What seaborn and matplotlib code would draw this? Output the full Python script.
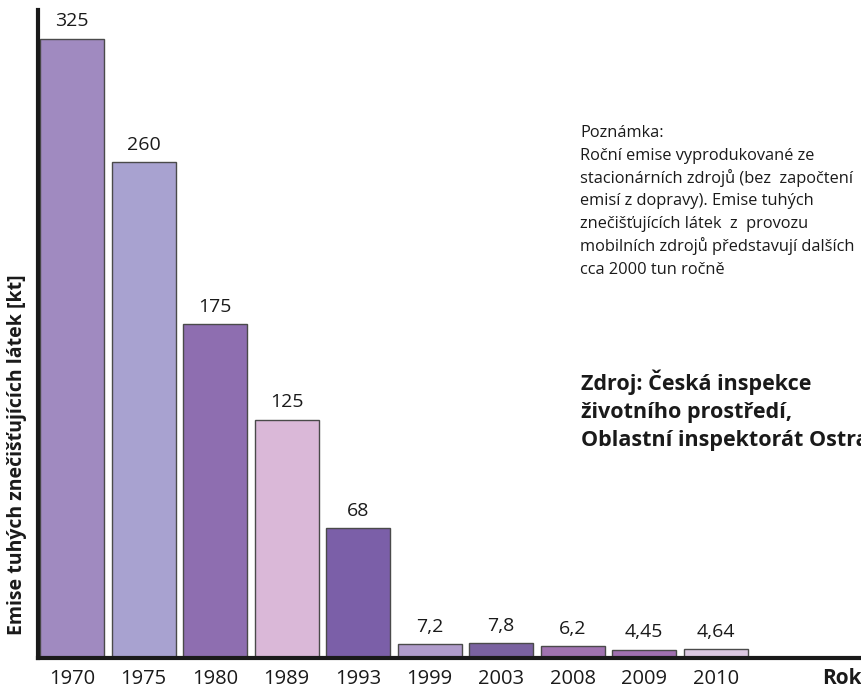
import matplotlib
matplotlib.use("Agg")
import matplotlib.pyplot as plt
import pandas as pd
import seaborn as sns

years = ["1970", "1975", "1980", "1989", "1993", "1999", "2003", "2008", "2009", "2010"]
emissions = [325, 260, 175, 125, 68, 7.2, 7.8, 6.2, 4.45, 4.64]
value_labels = ["325", "260", "175", "125", "68", "7,2", "7,8", "6,2", "4,45", "4,64"]
bar_colors = ["#a08ac0", "#a8a2d0", "#8e6eb0", "#dab8d8", "#7b5fa8",
              "#b09ccb", "#7a62a0", "#a073b0", "#a070b0", "#dcc8e2"]

note_lines = ["Poznámka:",
              "Roční emise vyprodukované ze",
              "stacionárních zdrojů (bez  započtení",
              "emisí z dopravy). Emise tuhých",
              "znečišťujících látek  z  provozu",
              "mobilních zdrojů představují dalších",
              "cca 2000 tun ročně"]
source_lines = ["Zdroj: Česká inspekce",
                "životního prostředí,",
                "Oblastní inspektorát Ostrava"]

sns.set_style("white")
plt.rcParams["font.family"] = ["Open Sans", "DejaVu Sans"]

df = pd.DataFrame({"year": years, "kt": emissions})

W, H = 861, 688
fig = plt.figure(figsize=(W / 100, H / 100), dpi=100)
ax = fig.add_axes([38 / W, (H - 658) / H, 1 - 38 / W, (658 - 10) / H])

sns.barplot(data=df, x="year", y="kt", hue="year", palette=bar_colors,
            legend=False, width=0.895, edgecolor="#4a4a4a", linewidth=1.0,
            saturation=1, ax=ax)

for i, (v, lab) in enumerate(zip(emissions, value_labels)):
    ax.annotate(lab, (i, v), xytext=(0, 6), textcoords="offset points",
                ha="center", va="bottom", fontsize=14, color="#1a1a1a")

ax.set_xlim(-0.476, 11.03)
ax.set_ylim(0, 340)
ax.set_yticks([])
ax.set_xlabel("")
ax.set_ylabel("")
ax.tick_params(axis="x", length=0, pad=8, labelsize=14.5, labelcolor="#1a1a1a")
sns.despine(ax=ax, top=True, right=True)
for side in ("left", "bottom"):
    ax.spines[side].set_linewidth(3)
    ax.spines[side].set_color("#1a1a1a")

fig.text(17 / W, 1 - 455 / H, "Emise tuhých znečišťujících látek [kt]",
         rotation=90, ha="center", va="center", fontsize=14,
         fontweight="bold", color="#1a1a1a")
fig.text(1 + 1 / W, 1 - 678 / H, "Rok", ha="right", va="center",
         fontsize=15, fontweight="bold", color="#1a1a1a")

# note and source, one line at a time so diacritics don't shift spacing
for k, line in enumerate(note_lines):
    fig.text(580 / W, 1 - (137 + 22.8 * k) / H, line, ha="left", va="baseline",
             fontsize=11.8, color="#1a1a1a")
for k, line in enumerate(source_lines):
    fig.text(581 / W, 1 - (390 + 28 * k) / H, line, ha="left", va="baseline",
             fontsize=15.5, fontweight="bold", color="#1a1a1a")

fig.savefig("out.png", dpi=100)
